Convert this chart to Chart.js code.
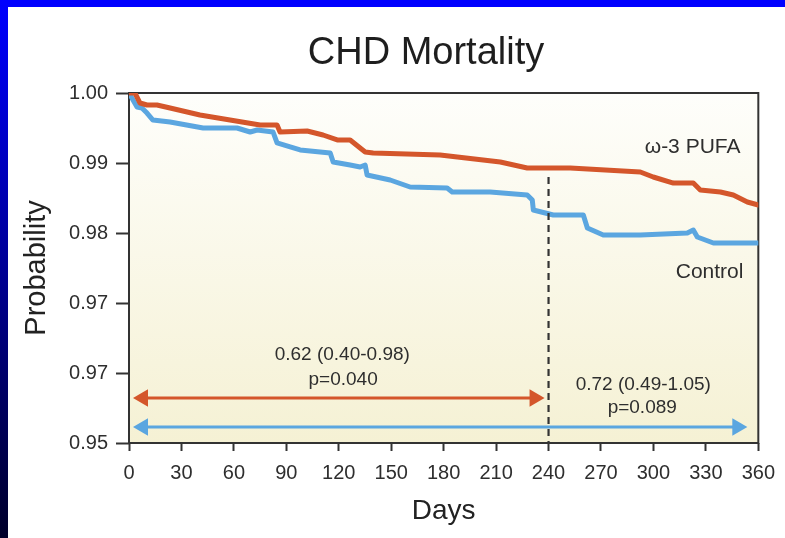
<!DOCTYPE html>
<html><head><meta charset="utf-8">
<script src="https://cdn.jsdelivr.net/npm/chart.js@4"></script>
<style>
html,body{margin:0;padding:0;background:#fff;}
#wrap{position:relative;width:785px;height:538px;overflow:hidden;background:#fff;}
#topbar{position:absolute;left:0;top:0;width:785px;height:7px;background:#0000ff;z-index:2}
#leftbar{position:absolute;left:0;top:0;width:8px;height:538px;background:linear-gradient(#0000ff,#00002a);z-index:2}
canvas{position:absolute;left:0;top:0;}
</style></head>
<body><div id="wrap"><canvas id="c" width="785" height="538"></canvas><div id="topbar"></div><div id="leftbar"></div></div>
<script>
// ---- data ----
const chartTitle = 'CHD Mortality';
const xTitle = 'Days';
const yTitle = 'Probability';
const yTickLabels = ['0.95', '0.97', '0.97', '0.98', '0.99', '1.00'];
const seriesNames = ['ω-3 PUFA', 'Control'];

const pufaDays = [0, 3.4, 6.3, 10.3, 16.0, 23.5, 40.6, 57.8, 75.0, 84.7, 86.4, 101.9, 111.0, 119.1, 126.5, 135.1, 139.7, 178.0, 212.4, 227.8, 252.4, 292.5, 299.9, 311.4, 322.8, 326.8, 338.3, 345.7, 353.7, 360];
const pufaValues = [1.0, 1.0, 0.99857, 0.99829, 0.99829, 0.99786, 0.99686, 0.99614, 0.99543, 0.99543, 0.99443, 0.99457, 0.994, 0.99329, 0.99329, 0.99157, 0.99143, 0.99114, 0.99014, 0.98929, 0.98929, 0.98871, 0.988, 0.98714, 0.98714, 0.98614, 0.98586, 0.98543, 0.98443, 0.984];

const controlDays = [0, 4.6, 7.4, 10.3, 13.7, 23.5, 42.4, 61.8, 69.3, 73.3, 82.4, 84.7, 92.2, 97.9, 115.1, 116.8, 126.5, 132.2, 135.1, 136.2, 149.4, 160.8, 182.0, 184.9, 206.6, 227.8, 230.7, 231.3, 242.7, 259.9, 262.2, 271.3, 292.5, 319.4, 322.8, 325.1, 334.3, 360];
const controlValues = [1.0, 0.998, 0.99786, 0.99714, 0.99614, 0.99586, 0.995, 0.995, 0.99443, 0.99471, 0.99443, 0.99286, 0.99229, 0.99186, 0.99143, 0.99014, 0.98971, 0.98943, 0.98971, 0.98829, 0.98757, 0.98657, 0.98643, 0.98586, 0.98586, 0.98543, 0.98471, 0.98329, 0.98257, 0.98257, 0.98071, 0.97971, 0.97971, 0.98, 0.98043, 0.97943, 0.97857, 0.97857];

const cutoffDays = [240, 240];
const cutoffValues = [0.988, 0.95];

const pufaArrowDays = [8, 232];
const pufaArrowValues = [0.95643, 0.95643];
const controlArrowDays = [8, 348];
const controlArrowValues = [0.95229, 0.95229];

const hrTexts = ['0.62 (0.40-0.98)', 'p=0.040', '0.72 (0.49-1.05)', 'p=0.089'];

// ---- helpers ----
const pts = (xs, ys) => xs.map((d, i) => ({x: d, y: ys[i]}));
const FONT = '"Liberation Sans", Arial, Helvetica, sans-serif';
const ORANGE = '#d4562b';
const BLUE = '#5ba6e0';
const INK = '#2e2e2e';

// text anchors (day, probability, align)
const notes = [
  {t: hrTexts[0], d: 122, v: 0.96186, a: 'center', s: 19},
  {t: hrTexts[1], d: 122.5, v: 0.95829, a: 'center', s: 19},
  {t: hrTexts[2], d: 294.2, v: 0.95757, a: 'center', s: 19},
  {t: hrTexts[3], d: 293.6, v: 0.95429, a: 'center', s: 19},
  {t: seriesNames[0], d: 349.8, v: 0.99143, a: 'right', s: 21},
  {t: seriesNames[1], d: 351.5, v: 0.97357, a: 'right', s: 21}
];

const decor = {
  id: 'decor',
  beforeDraw(chart) {
    const {ctx, chartArea: a} = chart;
    const g = ctx.createLinearGradient(0, a.top, 0, a.bottom);
    g.addColorStop(0, '#fefefb');
    g.addColorStop(1, '#f5f1d4');
    ctx.save();
    ctx.fillStyle = g;
    ctx.fillRect(a.left, a.top, a.right - a.left, a.bottom - a.top);
    ctx.restore();
  },
  beforeDatasetsDraw(chart) {
    const {ctx, chartArea: a} = chart;
    ctx.save();
    ctx.strokeStyle = '#333';
    ctx.lineWidth = 2;
    ctx.strokeRect(a.left, a.top, a.right - a.left, a.bottom - a.top);
    ctx.restore();
  },
  afterDraw(chart) {
    const {ctx, scales: {x, y}} = chart;
    ctx.save();
    ctx.fillStyle = '#1e1e1e';
    ctx.textAlign = 'center';
    ctx.textBaseline = 'alphabetic';
    ctx.font = '38px ' + FONT;
    ctx.fillText(chartTitle, 426, 64);
    ctx.fillStyle = INK;
    notes.forEach(n => {
      ctx.font = n.s + 'px ' + FONT;
      ctx.textAlign = n.a;
      ctx.fillText(n.t, x.getPixelForValue(n.d), y.getPixelForValue(n.v));
    });
    ctx.restore();
  }
};

const arrowLine = (data, color) => ({
  data, borderColor: color, backgroundColor: color, borderWidth: 3,
  pointStyle: 'triangle', pointRadius: 10, pointHoverRadius: 10,
  pointRotation: [-90, 90], pointBorderWidth: 0, tension: 0
});

new Chart(document.getElementById('c'), {
  type: 'line',
  data: {
    datasets: [
      arrowLine(pts(pufaArrowDays, pufaArrowValues), ORANGE),
      arrowLine(pts(controlArrowDays, controlArrowValues), BLUE),
      {data: pts(cutoffDays, cutoffValues), borderColor: '#333', borderWidth: 2.2, borderDash: [7, 5], pointRadius: 0},
      {label: seriesNames[0], data: pts(pufaDays, pufaValues), borderColor: ORANGE, borderWidth: 5, pointRadius: 0, tension: 0, borderJoinStyle: 'round', borderCapStyle: 'round'},
      {label: seriesNames[1], data: pts(controlDays, controlValues), borderColor: BLUE, borderWidth: 5, pointRadius: 0, tension: 0, borderJoinStyle: 'round', borderCapStyle: 'round'}
    ]
  },
  options: {
    responsive: false,
    animation: false,
    events: [],
    layout: {padding: {top: 93, left: 10, right: 0, bottom: 0}},
    plugins: {legend: {display: false}, tooltip: {enabled: false}, title: {display: false}},
    scales: {
      x: {
        type: 'linear', min: 0, max: 360,
        afterFit: s => { s.height = 95; },
        ticks: {stepSize: 30, color: INK, padding: 10, font: {family: FONT, size: 20}, maxRotation: 0},
        grid: {display: true, drawOnChartArea: false, drawTicks: true, tickLength: 8, tickColor: '#333', tickWidth: 2},
        border: {display: false},
        title: {display: true, text: xTitle, color: '#222', font: {family: FONT, size: 28}, padding: {top: 0, bottom: 10}}
      },
      y: {
        type: 'linear', min: 0.95, max: 1.0,
        afterFit: s => { s.width = 119; },
        ticks: {stepSize: 0.01, color: INK, padding: 8, font: {family: FONT, size: 20},
          callback: (v, i) => yTickLabels[i]},
        grid: {display: true, drawOnChartArea: false, drawTicks: true, tickLength: 13, tickColor: '#333', tickWidth: 2},
        border: {display: false},
        title: {display: true, text: yTitle, color: '#222', font: {family: FONT, size: 29}, padding: {top: 10, bottom: 0}}
      }
    }
  },
  plugins: [decor]
});
</script>
</body></html>
